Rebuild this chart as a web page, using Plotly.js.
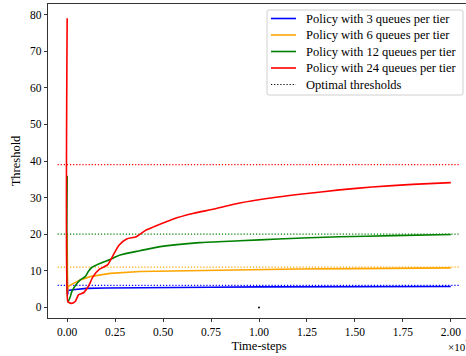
<!DOCTYPE html>
<html><head><meta charset="utf-8">
<script src="https://cdn.plot.ly/plotly-3.0.1.min.js"></script>
<style>html,body{margin:0;padding:0;overflow:hidden;background:#fff;}#plot{width:470px;height:356px;}</style>
</head><body><div id="plot"></div>
<script>
// time-steps in units of 1e7
const blueX = [0, 0.002, 0.005, 0.03, 0.06, 0.1, 0.2, 0.35, 0.5, 0.75, 1.0, 1.25, 1.5, 1.75, 2.0];
const blueY = [9, 3.5, 4.6, 4.8, 5.0, 5.2, 5.3, 5.4, 5.5, 5.5, 5.6, 5.6, 5.6, 5.7, 5.7];
const orangeX = [0, 0.002, 0.005, 0.03, 0.068, 0.12, 0.224, 0.38, 0.59, 0.9, 1.2, 1.5, 1.75, 2.0];
const orangeY = [20, 4.0, 5.7, 6.5, 7.5, 8.4, 9.3, 9.8, 10.0, 10.4, 10.5, 10.6, 10.7, 10.8];
const greenX = [0, 0.004, 0.016, 0.024, 0.042, 0.068, 0.094, 0.11, 0.128, 0.17, 0.224, 0.276, 0.38, 0.484, 0.69, 0.9, 1.1, 1.42, 1.7, 2.0];
const greenY = [36, 1.5, 2.9, 4.3, 5.9, 7.5, 8.4, 9.8, 10.9, 12.0, 13.1, 14.3, 15.5, 16.6, 17.7, 18.2, 18.7, 19.3, 19.6, 19.9];
const redX = [0, 0.003, 0.007, 0.024, 0.042, 0.059, 0.085, 0.11, 0.135, 0.17, 0.21, 0.24, 0.27, 0.31, 0.36, 0.41, 0.45, 0.55, 0.66, 0.76, 0.9, 1.05, 1.25, 1.42, 1.59, 1.8, 2.0];
const redY = [79, 1.6, 1.4, 1.1, 1.6, 3.4, 4.0, 5.7, 8.4, 10.5, 11.6, 14.3, 17.0, 18.7, 19.3, 21.1, 22.0, 24.1, 25.7, 26.8, 28.5, 29.8, 31.1, 32.1, 32.9, 33.6, 34.1];
const optX = [-0.05, 2.05];
const optimal = {blue: 6, orange: 11, green: 20, red: 39};
const markX = [1.0], markY = [0];
const xTicks = [0, 0.25, 0.5, 0.75, 1.0, 1.25, 1.5, 1.75, 2.0];
const xTickText = ["0.00","0.25","0.50","0.75","1.00","1.25","1.50","1.75","2.00"];
const yTicks = [0, 10, 20, 30, 40, 50, 60, 70, 80];
const legendNames = ['Policy with 3 queues per tier','Policy with 6 queues per tier','Policy with 12 queues per tier','Policy with 24 queues per tier','Optimal thresholds'];

const C = {blue:'#0000ff', orange:'#ffa500', green:'#008000', red:'#ff0000', black:'#000000'};
const F = '"Liberation Serif", "DejaVu Serif", serif';
const DOT = '1.2px,1.9px';

const traces = [];
for (const k of ['blue','orange','green','red']) {
  traces.push({x: optX, y: [optimal[k], optimal[k]], mode:'lines', line:{color:C[k], width:1.2, dash:DOT}, showlegend:false, hoverinfo:'skip'});
}
traces.push({x: blueX, y: blueY, mode:'lines', line:{color:C.blue, width:1.6}});
traces.push({x: orangeX, y: orangeY, mode:'lines', line:{color:C.orange, width:1.6}});
traces.push({x: greenX, y: greenY, mode:'lines', line:{color:C.green, width:1.6, shape:'spline', smoothing:0.6}});
traces.push({x: redX, y: redY, mode:'lines', line:{color:C.red, width:1.6, shape:'spline', smoothing:0.6}});
traces.push({x: markX, y: markY, mode:'markers', marker:{color:'#000', size:2}});

// manual legend (matplotlib style) in pixel-based paper coords
const L = 48, R = 470, T = 4, B = 318;
const px = v => (v - L) / (R - L);
const py = v => (B - v) / (B - T);
const shapes = [];
const annotations = [];
const r = 2, bx0 = 267, bx1 = 463, by0 = 10, by1 = 95;
shapes.push({type:'path', xref:'paper', yref:'paper', layer:'above',
  path:`M ${px(bx0+r)},${py(by0)} L ${px(bx1-r)},${py(by0)} Q ${px(bx1)},${py(by0)} ${px(bx1)},${py(by0+r)} L ${px(bx1)},${py(by1-r)} Q ${px(bx1)},${py(by1)} ${px(bx1-r)},${py(by1)} L ${px(bx0+r)},${py(by1)} Q ${px(bx0)},${py(by1)} ${px(bx0)},${py(by1-r)} L ${px(bx0)},${py(by0+r)} Q ${px(bx0)},${py(by0)} ${px(bx0+r)},${py(by0)} Z`,
  fillcolor:'rgba(255,255,255,0.85)', line:{color:'#d0d0d0', width:1}});
const legColors = [C.blue, C.orange, C.green, C.red, C.black];
const legY = [18.5, 35, 51.5, 68, 84.5];
legendNames.forEach((n, i) => {
  shapes.push({type:'line', xref:'paper', yref:'paper', layer:'above', x0:px(271), x1:px(296), y0:py(legY[i]), y1:py(legY[i]),
    line:{color:legColors[i], width: i===4 ? 1.2 : 1.6, dash: i===4 ? DOT : 'solid'}});
  annotations.push({text:n, xref:'paper', yref:'paper', x:px(304), y:py(legY[i]), xanchor:'left', yanchor:'middle', showarrow:false,
    font:{family:F, size:12.5, color:'#000'}});
});
annotations.push({text:'×10<sup>7</sup>', xref:'paper', yref:'paper', x:px(446), y:py(337), xanchor:'left', yanchor:'top', showarrow:false, font:{family:F, size:11}});

const layout = {
  width: 470, height: 356,
  margin: {l:L, r:0, t:T, b:356-B},
  paper_bgcolor:'#fff', plot_bgcolor:'#fff',
  font: {family: F, size: 11, color:'#000'},
  showlegend: false,
  xaxis: {range:[-0.1, 2.1], tickvals:xTicks, ticktext:xTickText, ticks:'outside', ticklen:3.5, tickwidth:0.8, tickcolor:'#000', showline:true, linecolor:'#000', linewidth:0.8, mirror:true, showgrid:false, zeroline:false,
          tickfont:{family:F, size:11.5}, title:{text:'Time-steps', font:{family:F, size:12.5}, standoff:4}},
  yaxis: {range:[-2.9, 82.9], tickvals:yTicks, ticks:'outside', ticklen:3.5, tickwidth:0.8, tickcolor:'#000', showline:true, linecolor:'#000', linewidth:0.8, mirror:true, showgrid:false, zeroline:false,
          tickfont:{family:F, size:11.5}, title:{text:'Threshold', font:{family:F, size:12.5}, standoff:6}},
  shapes: shapes,
  annotations: annotations
};
Plotly.newPlot('plot', traces, layout, {displayModeBar:false, staticPlot:true});
</script></body></html>
